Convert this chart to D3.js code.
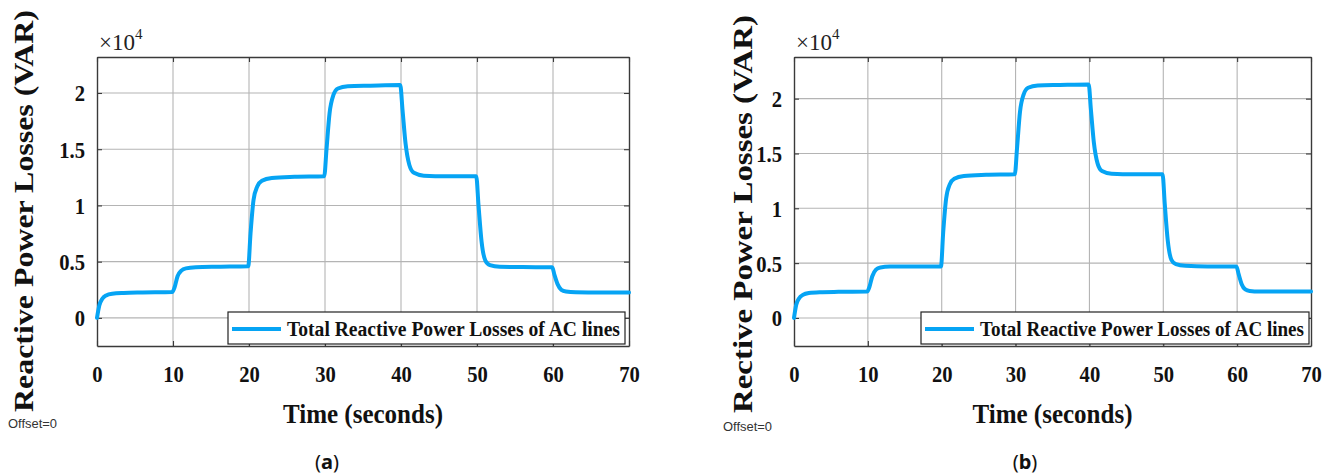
<!DOCTYPE html>
<html>
<head>
<meta charset="utf-8">
<script src="https://cdn.jsdelivr.net/npm/d3@7"></script>
<style>
  html, body { margin: 0; padding: 0; background: #fff; }
  svg { display: block; }
</style>
</head>
<body>
<svg id="chart" width="1333" height="475"></svg>
<script>
// ---- Data (values in units of 1e4 VAR) ----
const times = [0, 0.3, 0.7, 1.2, 2, 3.5, 6, 9.9, 10.2, 10.6, 11.1, 11.7, 13, 16, 19.9,
  20.2, 20.6, 21.1, 21.7, 23, 26, 29.9, 30.2, 30.6, 31.1, 31.7, 33, 36, 39.9,
  40.2, 40.6, 41.1, 41.7, 43, 46, 49.9, 50.2, 50.6, 51.1, 51.7, 53, 56, 59.9,
  60.2, 60.6, 61.1, 61.7, 63, 66, 70];
const lossesA = [0, 0.11, 0.17, 0.20, 0.215, 0.222, 0.226, 0.23, 0.27, 0.37, 0.42, 0.44, 0.45, 0.455, 0.46,
  0.75, 1.05, 1.17, 1.22, 1.245, 1.255, 1.26, 1.5, 1.82, 1.98, 2.04, 2.06, 2.065, 2.07,
  1.85, 1.55, 1.36, 1.29, 1.265, 1.26, 1.26, 1.0, 0.68, 0.51, 0.47, 0.455, 0.452, 0.45,
  0.38, 0.30, 0.25, 0.235, 0.228, 0.226, 0.225];
const lossesB = [0, 0.12, 0.18, 0.21, 0.228, 0.235, 0.238, 0.24, 0.28, 0.38, 0.44, 0.46, 0.468, 0.47, 0.47,
  0.78, 1.09, 1.22, 1.27, 1.295, 1.305, 1.31, 1.55, 1.88, 2.04, 2.10, 2.12, 2.125, 2.13,
  1.90, 1.60, 1.41, 1.34, 1.315, 1.31, 1.31, 1.04, 0.71, 0.53, 0.49, 0.475, 0.47, 0.47,
  0.40, 0.31, 0.26, 0.245, 0.24, 0.24, 0.24];
const xTicks = [0, 10, 20, 30, 40, 50, 60, 70];
const yTicks = [0, 0.5, 1, 1.5, 2];
const yTickLabels = ["0", "0.5", "1", "1.5", "2"];
const xDomain = [0, 70];
const legendText = "Total Reactive Power Losses of AC lines";
const xTitle = "Time (seconds)";
const yTitles = ["Reactive Power Losses (VAR)", "Rective Power Losses (VAR)"];
const panelTags = ["a", "b"];

const panels = [
  { values: lossesA, yDomain: [-0.25, 2.32], left: 97, right: 629, top: 57, bottom: 346,
    yLabelX: 24, yLabelLen: 402, yLabelCy: 211, offX: 8, offY: 428, legL: 228, legR: 625,
    tagX: 327 },
  { values: lossesB, yDomain: [-0.256, 2.38], left: 794, right: 1311, top: 57, bottom: 346,
    yLabelX: 743, yLabelLen: 398, yLabelCy: 214, offX: 723, offY: 431, legL: 921, legR: 1309,
    tagX: 1025 }
];

const svg = d3.select("#chart");
const serif = "Liberation Serif";
const lineColor = "#06a4f4";

panels.forEach((p, i) => {
  const x = d3.scaleLinear().domain(xDomain).range([p.left, p.right]);
  const y = d3.scaleLinear().domain(p.yDomain).range([p.bottom, p.top]);
  const g = svg.append("g");

  // grid
  g.append("g").selectAll("line").data(xTicks.slice(1, -1)).join("line")
    .attr("x1", d => x(d)).attr("x2", d => x(d))
    .attr("y1", p.top).attr("y2", p.bottom)
    .attr("stroke", "#b4b4b4").attr("stroke-width", 1.1);
  g.append("g").selectAll("line").data(yTicks).join("line")
    .attr("x1", p.left).attr("x2", p.right)
    .attr("y1", d => y(d)).attr("y2", d => y(d))
    .attr("stroke", "#b4b4b4").attr("stroke-width", 1.1);

  // axes (ticks inward)
  const fmtY = d => yTickLabels[yTicks.indexOf(d)];
  const axB = g.append("g").attr("transform", `translate(0,${p.bottom})`)
    .call(d3.axisBottom(x).tickValues(xTicks).tickSizeInner(-5).tickSizeOuter(0).tickPadding(14));
  const axT = g.append("g").attr("transform", `translate(0,${p.top})`)
    .call(d3.axisTop(x).tickValues(xTicks).tickSizeInner(-5).tickSizeOuter(0).tickFormat(""));
  const axL = g.append("g").attr("transform", `translate(${p.left},0)`)
    .call(d3.axisLeft(y).tickValues(yTicks).tickFormat(fmtY).tickSizeInner(-5).tickSizeOuter(0).tickPadding(14));
  const axR = g.append("g").attr("transform", `translate(${p.right},0)`)
    .call(d3.axisRight(y).tickValues(yTicks).tickSizeInner(-5).tickSizeOuter(0).tickFormat(""));
  [axB, axT, axL, axR].forEach(a => {
    a.attr("font-family", serif);
    a.select(".domain").attr("stroke", "#3a3a3a").attr("stroke-width", 1.4);
    a.selectAll(".tick line").attr("stroke", "#3a3a3a").attr("stroke-width", 1.1);
  });
  axB.selectAll("text").style("font-family", serif).attr("font-weight", "bold")
    .attr("font-size", 24).attr("fill", "#111")
    .attr("transform", "scale(0.86,1)").attr("dy", "0.9em");
  axL.selectAll("text").style("font-family", serif).attr("font-weight", "bold")
    .attr("font-size", 24).attr("fill", "#111").attr("dy", "0.33em")
    .attr("transform", "scale(0.86,1)");

  // line
  const line = d3.line().x((d, k) => x(times[k])).y(d => y(d)).curve(d3.curveMonotoneX);
  g.append("path").datum(p.values).attr("d", line)
    .attr("fill", "none").attr("stroke", lineColor).attr("stroke-width", 4)
    .attr("stroke-linejoin", "round").attr("stroke-linecap", "round");

  // legend
  const legT = 312, legB = 344;
  g.append("rect").attr("x", p.legL).attr("y", legT).attr("width", p.legR - p.legL).attr("height", legB - legT)
    .attr("fill", "#fff").attr("stroke", "#222").attr("stroke-width", 1.2);
  const ly = (legT + legB) / 2 + 1;
  g.append("line").attr("x1", p.legL + 4).attr("x2", p.legL + 53).attr("y1", ly).attr("y2", ly)
    .attr("stroke", lineColor).attr("stroke-width", 4);
  g.append("text").attr("x", p.legL + 59).attr("y", ly + 7)
    .style("font-family", serif).attr("font-weight", "bold").attr("font-size", 20).attr("fill", "#111")
    .attr("textLength", p.legR - p.legL - 64).attr("lengthAdjust", "spacingAndGlyphs")
    .text(legendText);

  // x10^4 exponent
  const ex = g.append("text").attr("x", p.left + 2).attr("y", 50)
    .style("font-family", serif).attr("font-size", 23).attr("fill", "#222");
  ex.append("tspan").text("\u00d710");
  ex.append("tspan").attr("font-size", 15).attr("dy", -11).text("4");

  // x title
  g.append("text").attr("x", (p.left + p.right) / 2).attr("y", 423)
    .attr("text-anchor", "middle").style("font-family", serif).attr("font-weight", "bold")
    .attr("font-size", 28).attr("fill", "#111")
    .attr("textLength", 160).attr("lengthAdjust", "spacingAndGlyphs")
    .text(xTitle);

  // y title
  g.append("text").attr("transform", `translate(${p.yLabelX + 9},${p.yLabelCy}) rotate(-90)`)
    .attr("text-anchor", "middle").style("font-family", serif).attr("font-weight", "bold")
    .attr("font-size", 27).attr("fill", "#111")
    .attr("textLength", p.yLabelLen).attr("lengthAdjust", "spacingAndGlyphs")
    .text(yTitles[i]);

  // Offset=0
  g.append("text").attr("x", p.offX).attr("y", p.offY)
    .style("font-family", "Liberation Sans").attr("font-size", 12.5).attr("fill", "#333")
    .attr("textLength", 49).attr("lengthAdjust", "spacingAndGlyphs")
    .text("Offset=0");

  // panel tag
  const tg = g.append("text").attr("x", p.tagX).attr("y", 469).attr("text-anchor", "middle")
    .style("font-family", "Noto Sans").attr("font-size", 20).attr("fill", "#111");
  tg.append("tspan").text("(");
  tg.append("tspan").attr("font-weight", "bold").text(panelTags[i]);
  tg.append("tspan").text(")");
});
</script>
</body>
</html>
